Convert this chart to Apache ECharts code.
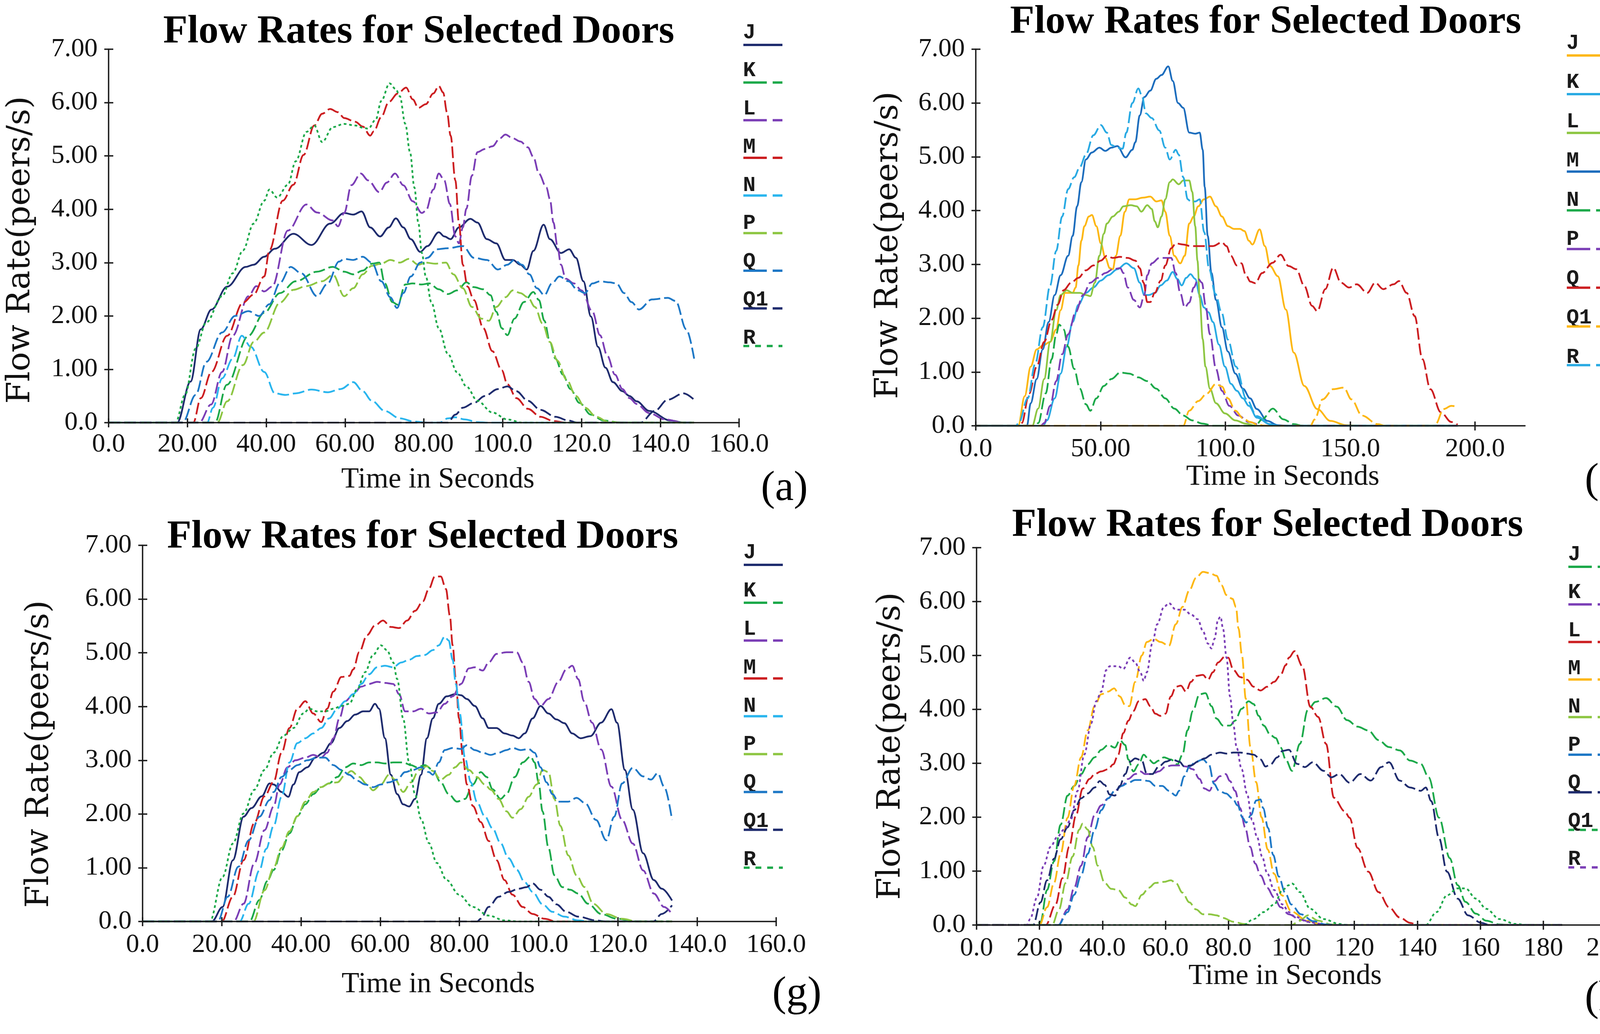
<!DOCTYPE html>
<html>
<head>
<meta charset="utf-8">
<script src="https://cdn.jsdelivr.net/npm/echarts@6/dist/echarts.min.js"></script>
<style>html,body{margin:0;padding:0;background:#fff;overflow:hidden}#c{width:4229px;height:2647px}</style>
</head>
<body>
<div id="c"></div>
<script>
// ---------------- DATA ----------------
const NAMES = ['J','K','L','M','N','P','Q','Q1','R'];
const Y_TICKS = [0,1,2,3,4,5,6,7];
const Y_LABELS = ['0.0','1.00','2.00','3.00','4.00','5.00','6.00','7.00'];
const X_TICKS_AG = [0,20,40,60,80,100,120,140,160];
const X_LABELS_AG = ['0.0','20.00','40.00','60.00','80.00','100.0','120.0','140.0','160.0'];
const X_TICKS_D = [0,50,100,150,200];
const X_LABELS_D = ['0.0','50.00','100.0','150.0','200.0'];
const X_TICKS_H = [0,20,40,60,80,100,120,140,160,180,200];
const X_LABELS_H = ['0.0','20.0','40.0','60.0','80.0','100','120','140','160','180','200'];

// panel (a)
const a_J = [[0,0],[17.4,0],[20.8,0.77],[23.4,1.75],[26.1,2.12],[30.1,2.55],[34.8,2.92],[36.8,2.96],[39.5,3.11],[42.2,3.26],[46.9,3.54],[51.5,3.33],[56.2,3.73],[59.8,3.93],[62.1,3.9],[64.2,3.96],[66.4,3.66],[68.9,3.49],[71.1,3.66],[72.9,3.83],[74.8,3.66],[76.7,3.44],[79.1,3.2],[80.9,3.31],[83.8,3.57],[85.2,3.49],[86.8,3.44],[88.9,3.66],[91.8,3.82],[93.6,3.75],[96,3.44],[98.4,3.36],[100.7,3.05],[102.6,3.05],[104.5,2.96],[106.1,2.87],[107.8,3.22],[110.4,3.71],[112,3.44],[114.8,3.18],[116.9,3.25],[118.6,3.09],[120.5,2.65],[122.4,1.99],[124.2,1.42],[126.1,1.03],[128,0.76],[130.4,0.59],[132.2,0.5],[134,0.4],[137.2,0.22],[142.6,0.04],[146,0],[148.6,0]];
const a_K = [[0,0],[27,0],[30,0.71],[35.5,1.63],[39.5,2.06],[43.5,2.43],[47.5,2.65],[52.9,2.83],[56.9,2.92],[59.8,2.83],[62.1,2.78],[64.5,2.85],[66.8,2.98],[68.7,3.0],[70.1,2.61],[72,2.26],[73.4,2.21],[75.3,2.59],[77.2,2.61],[79.5,2.59],[81.4,2.61],[83.8,2.5],[86.1,2.41],[88.5,2.48],[90.8,2.63],[92.7,2.54],[95.1,2.5],[96.9,2.39],[98.4,2.08],[99.8,1.77],[101.2,1.64],[103,1.95],[105.4,2.26],[107.8,2.45],[109.2,2.3],[110.6,1.91],[112,1.51],[113.4,1.2],[115.3,0.9],[117.2,0.63],[119.5,0.37],[122.4,0.15],[125.6,0.04],[130,0],[148.6,0]];
const a_L = [[0,0],[23,0],[26,0.34],[28.8,0.95],[31.5,1.63],[35.5,2.37],[37.5,2.56],[39.5,2.46],[41.5,2.55],[45.5,3.6],[50.2,4.09],[52.9,3.94],[56.9,3.79],[58.2,3.68],[59.8,3.93],[61.6,4.45],[64,4.67],[65.9,4.54],[68.7,4.32],[70.6,4.5],[72.7,4.67],[74.8,4.45],[77.2,4.15],[79.5,3.93],[80.5,3.97],[82.4,4.37],[83.8,4.67],[85.2,4.54],[86.6,4.1],[88,3.49],[88.9,3.36],[89.9,3.66],[90.8,4.01],[92.2,4.63],[93.6,5.07],[95.5,5.13],[97.4,5.18],[99.3,5.33],[100.7,5.4],[102.6,5.33],[104.5,5.27],[106.4,5.16],[107.8,4.98],[109.2,4.67],[111.1,4.41],[112,4.19],[112.9,3.75],[113.9,3.31],[114.8,2.96],[116,2.7],[118.1,2.61],[120,2.48],[122.8,2.08],[124.7,1.64],[126.6,1.25],[128.5,0.9],[130.4,0.63],[132.2,0.46],[134,0.35],[137.2,0.18],[141.2,0.06],[146,0],[148.6,0]];
const a_M = [[0,0],[21.5,0],[23.4,0.46],[26.1,0.95],[30.1,1.63],[34.1,2.25],[36.8,2.4],[39.5,2.74],[40.8,3.23],[44.2,4.16],[46.9,4.46],[49.5,5.02],[52.2,5.57],[54.2,5.79],[56.2,5.88],[58.2,5.82],[59.8,5.71],[62.6,5.64],[64.5,5.55],[66.4,5.38],[67.3,5.46],[69.2,5.73],[71.1,6.01],[73.4,6.17],[75.5,6.28],[77.2,6.06],[78.6,5.9],[80.5,5.97],[82.4,6.17],[83.8,6.31],[84.9,6.19],[85.9,5.81],[86.8,5.38],[88,4.54],[88.9,3.75],[89.9,2.96],[91.1,2.55],[92.7,2.3],[95.1,1.77],[97.4,1.34],[99.8,0.98],[101.2,0.72],[103.5,0.46],[106.4,0.26],[109.6,0.11],[113,0.03],[116,0],[148.6,0]];
const a_N = [[0,0],[25,0],[26.5,0.28],[28.8,0.83],[31.5,1.2],[33.8,1.63],[36.1,1.42],[39.5,0.95],[42.2,0.55],[44.9,0.52],[47.5,0.55],[51.5,0.62],[55.6,0.57],[58.9,0.63],[62.1,0.76],[64.5,0.59],[66.8,0.41],[70.1,0.22],[73.9,0.08],[77.6,0.02],[80.9,0],[84,0],[86.1,0.08],[88,0.1],[90.4,0.06],[93.6,0.01],[96,0],[148.6,0]];
const a_P = [[0,0],[27.6,0],[30.1,0.4],[34.1,1.08],[36.8,1.51],[39.5,1.69],[43.5,2.25],[46.9,2.49],[50.2,2.56],[54.2,2.65],[57,2.77],[59.8,2.37],[62.1,2.52],[64.5,2.78],[66.8,2.94],[69.2,2.98],[71.5,3.05],[73.9,3.0],[76.2,3.07],[78.6,2.96],[80.5,3.0],[82.8,2.98],[85.6,3.0],[87.5,2.78],[89.9,2.52],[92.2,2.17],[94.6,1.95],[96.5,1.91],[98.4,2.17],[100.7,2.35],[102.6,2.48],[104.5,2.43],[106.4,2.35],[108.2,2.17],[110.1,1.86],[112,1.51],[113.9,1.16],[116.2,0.81],[118.6,0.5],[120.9,0.28],[123.8,0.11],[126.6,0.02],[130,0],[148.6,0]];
const a_Q = [[0,0],[18.8,0],[22.1,0.52],[24.8,1.14],[28.8,1.69],[32.1,2.0],[35.5,2.09],[38.2,2.0],[40.8,2.22],[43.5,2.62],[46.2,2.92],[48.9,2.8],[52.9,2.37],[55.5,2.6],[58.5,3.02],[59.8,3.07],[62.1,3.05],[64.5,3.11],[66.8,3.0],[69.2,2.65],[71.5,2.35],[73.2,2.15],[74.8,2.43],[76.7,2.74],[79.1,3.0],[80.9,3.09],[83.3,3.25],[86.1,3.27],[89.9,3.31],[92.7,3.09],[96,3.05],[98.8,2.87],[101.2,2.96],[103,3.05],[104.9,2.96],[106.8,2.78],[108.7,2.52],[110.6,2.39],[112.5,2.61],[114.4,2.74],[116.7,2.65],[119.1,2.48],[120.9,2.43],[122.8,2.61],[124.7,2.65],[127.1,2.63],[128.9,2.61],[130.8,2.43],[132.7,2.26],[134.6,2.12],[137.9,2.31],[141.9,2.34],[143.9,2.28],[146.6,1.75],[148.6,1.2]];
const a_Q1 = [[0,0],[86.1,0],[88,0.15],[89.9,0.28],[92.7,0.37],[95.5,0.5],[98.8,0.63],[101.2,0.68],[103.5,0.59],[106.4,0.41],[109.6,0.24],[113.4,0.11],[116.7,0.04],[119,0],[135,0],[138.6,0.22],[141.9,0.43],[145.9,0.55],[148.6,0.43]];
const a_R = [[0,0],[17,0],[19.4,0.52],[22.1,1.39],[24.8,1.88],[28.8,2.37],[31.5,2.8],[34.1,3.23],[36.8,3.73],[39.5,4.16],[40.8,4.37],[42.8,4.22],[45.5,4.46],[47.5,4.9],[50.2,5.45],[52.2,5.57],[54.2,5.26],[56.9,5.54],[59.8,5.6],[62.6,5.57],[64.5,5.53],[65.9,5.51],[67.8,5.68],[69.2,6.03],[71.3,6.36],[72.9,6.25],[73.9,6.12],[75.3,5.6],[76.5,5.07],[77.6,4.41],[78.6,3.75],[79.5,3.18],[80.5,2.74],[81.9,2.26],[83.8,1.77],[86.1,1.29],[88.5,0.94],[90.8,0.68],[93.6,0.41],[97.4,0.19],[101.2,0.06],[105,0],[148.6,0]];

// panel (d)
const d_J = [[0,0],[17,0],[19.6,0.55],[22,1.1],[24.4,1.42],[26.8,1.49],[29.8,1.56],[32.2,1.79],[34,2.15],[35.8,2.47],[38.8,2.47],[40,2.57],[41.1,2.98],[42.3,3.44],[43.5,3.71],[45.3,3.89],[46.5,3.92],[48.3,3.71],[50.1,3.39],[51.9,3.12],[53.7,2.93],[54.9,2.91],[56.1,3.16],[57.9,3.53],[59.7,3.98],[61.5,4.21],[63.9,4.21],[66.9,4.24],[69.9,4.26],[72.3,4.17],[74.4,4.19],[75.9,3.98],[77.7,3.53],[79.5,3.16],[81.9,3.02],[83.7,3.16],[85.5,3.76],[87.3,3.89],[89.1,4.08],[91.4,4.21],[93.8,4.26],[96.2,4.08],[98.6,3.89],[101,3.71],[103.4,3.66],[105.8,3.66],[107.6,3.62],[109.4,3.44],[110.8,3.37],[113.7,3.65],[115.8,3.34],[117.9,2.97],[121,2.78],[124.2,2.16],[127.4,1.36],[131.6,0.74],[136.8,0.31],[142.1,0.09],[148.4,0.01],[155,0],[193,0]];
const d_K = [[0,0],[27,0],[28.5,0.1],[31.6,0.51],[34,0.97],[36.4,1.47],[38.8,1.93],[41.1,2.25],[44.1,2.47],[47.1,2.57],[50.1,2.7],[53.1,2.8],[56.7,2.91],[60.3,3.02],[63.3,2.93],[65.7,2.66],[67.5,2.43],[69.3,2.43],[71.7,2.47],[74.1,2.61],[76.5,2.7],[78.9,2.86],[80.7,2.73],[82.5,2.61],[84.3,2.75],[86,2.82],[87.9,2.73],[89.7,2.43],[91.4,2.2],[93.2,2.11],[95,1.93],[97.4,1.51],[99.8,1.1],[102.2,0.78],[104.6,0.65],[107,0.51],[109.4,0.37],[112.6,0.15],[117.9,0.03],[122,0],[193,0]];
const d_L = [[0,0],[22.6,0],[25,0.32],[27.4,0.87],[29.8,1.56],[32.2,2.15],[34,2.43],[36.4,2.52],[38.8,2.47],[41.7,2.47],[44.1,2.43],[45.9,2.41],[47.7,2.66],[49.5,3.16],[51.3,3.57],[52.5,3.76],[54.9,3.89],[57.3,3.98],[59.1,4.08],[62.1,4.1],[64.5,4.08],[66.3,3.98],[68.7,4.1],[70.5,4.03],[71.7,3.8],[72.9,3.69],[74.4,3.89],[75.9,4.21],[77.7,4.53],[78.9,4.58],[81.3,4.49],[83.1,4.56],[85.5,4.56],[86.7,4.35],[87.9,3.71],[88.8,3.07],[89.7,2.38],[90.9,1.61],[92,1.1],[93.8,0.69],[96.2,0.42],[99.8,0.23],[104,0.1],[108.2,0.04],[112,0],[193,0]];
const d_M = [[0,0],[20.5,0],[22,0.42],[24.4,0.87],[26.8,1.42],[29.2,1.93],[31.6,2.43],[34,2.8],[37,3.16],[38.8,3.53],[40.6,4.08],[42.3,4.53],[44.1,4.95],[46.5,5.08],[49.5,5.17],[51.9,5.11],[54.3,5.17],[56.7,5.2],[60,4.99],[62.7,5.13],[63.9,5.27],[65.7,5.77],[67.5,6.11],[69.9,6.23],[72.3,6.45],[74.4,6.52],[77.1,6.68],[78.9,6.41],[81,6.0],[83.1,5.91],[85.5,5.45],[87.9,5.43],[89.7,5.45],[90.9,5.13],[91.7,4.44],[92.9,3.53],[94.4,2.84],[96.2,2.34],[98.6,1.83],[101,1.38],[104,0.97],[107,0.69],[109.9,0.51],[112.6,0.31],[116.8,0.09],[121,0.01],[125,0],[193,0]];
const d_N = [[0,0],[24,0],[25,0.05],[28,0.6],[30.4,1.24],[32.2,1.7],[33.4,1.88],[35.2,1.79],[37,1.47],[39.4,1.06],[41.7,0.69],[44.1,0.4],[45.9,0.28],[48.3,0.51],[51.3,0.74],[54.3,0.87],[57.9,0.99],[61.5,0.97],[65.1,0.9],[68.7,0.83],[72.3,0.69],[75.9,0.51],[79.5,0.32],[83.1,0.19],[86.7,0.1],[90.9,0.04],[95,0],[112,0],[114.7,0.12],[119,0.32],[123.2,0.12],[127.4,0.03],[131,0],[193,0]];
const d_P = [[0,0],[26,0],[27.4,0.05],[29.8,0.37],[32.2,0.83],[34.6,1.33],[37,1.7],[40,2.11],[43,2.43],[45.9,2.66],[48.9,2.75],[51.9,2.84],[54.9,2.91],[57.9,2.93],[59.1,2.84],[60.9,2.57],[63.3,2.34],[65.7,2.2],[67.5,2.43],[68.7,2.8],[70.5,3.02],[73.5,3.12],[76.5,3.12],[78.3,3.12],[80.1,2.84],[81.9,2.47],[83.7,2.2],[85.5,2.29],[87.3,2.57],[89.1,2.73],[90.6,2.66],[92,2.25],[93.8,1.7],[96.2,1.06],[98.6,0.65],[101.6,0.37],[105.2,0.19],[109.4,0.07],[115,0],[193,0]];
const d_Q = [[0,0],[17.5,0],[18.4,0.05],[21.4,0.6],[24.4,1.1],[27.4,1.56],[30.4,1.97],[32.8,2.25],[35.2,2.52],[38.2,2.66],[41.1,2.75],[44.1,2.89],[47.1,2.98],[50.1,3.07],[52.5,3.16],[54.9,3.12],[57.9,3.14],[60.9,3.12],[63.9,3.07],[65.7,2.93],[67.2,2.66],[68.7,2.3],[69.9,2.3],[71.7,2.47],[74.1,2.7],[75.9,2.98],[78.3,3.3],[80.1,3.39],[83.1,3.37],[86,3.34],[89.1,3.34],[92,3.34],[95,3.34],[98.6,3.41],[100.4,3.34],[102.2,3.16],[104.6,2.98],[106.4,3.02],[108.2,2.8],[110,2.68],[112,2.65],[114.7,2.84],[118.9,3.03],[122.1,3.18],[125.3,2.97],[128.4,2.91],[131.6,2.6],[134.7,2.23],[136.8,2.13],[140,2.54],[143.2,2.94],[146.3,2.66],[149.5,2.57],[152.6,2.63],[156.8,2.47],[160,2.66],[163.2,2.54],[167.4,2.63],[169.5,2.69],[172.6,2.47],[175.8,2.04],[178.9,1.24],[182.1,0.68],[186.3,0.25],[190.5,0.07],[193,0.02]];
const d_Q1 = [[0,0],[83.1,0],[85.5,0.28],[89.1,0.46],[92.6,0.6],[96.2,0.78],[98.6,0.73],[101,0.51],[104,0.28],[107,0.14],[109.9,0.07],[113,0.02],[116,0],[134,0],[135.8,0.12],[138.9,0.49],[143.2,0.68],[147.4,0.71],[150.5,0.49],[154.7,0.19],[161,0.03],[164,0],[183,0],[184.2,0.03],[187.4,0.31],[190.5,0.37],[192.6,0.36]];
const d_R = [[0,0],[16,0],[17.2,0.05],[20.8,0.51],[23.8,1.15],[26.8,1.83],[29.8,2.61],[32.2,3.25],[34.6,3.89],[37,4.4],[39.4,4.62],[41.7,4.81],[44.1,5.04],[47.1,5.4],[50.1,5.59],[52.5,5.45],[54.3,5.22],[56.7,5.17],[58.8,5.15],[60.3,5.45],[62.7,6.0],[65.1,6.27],[66.6,6.13],[68.1,5.81],[70.5,5.72],[73.5,5.49],[75.9,5.17],[77.7,4.95],[80.1,5.13],[81.3,5.04],[83.1,4.62],[84.9,4.21],[86.1,4.17],[87.9,4.17],[89.7,4.21],[91.5,3.6],[93.5,2.9],[96,2.45],[98.5,2.1],[101,1.6],[104.2,1.1],[108.4,0.5],[112.6,0.18],[118,0.02],[122,0],[193,0]];

// panel (g)
const g_J = [[0,0],[17.5,0],[20.2,0.27],[22.8,1.14],[25.5,1.95],[27.5,2.11],[30.1,2.33],[32.1,2.57],[33.1,2.55],[35.1,2.41],[36.8,2.32],[38.1,2.55],[39.6,2.78],[41.6,2.87],[43.6,3.05],[45.6,3.14],[47.6,3.32],[49.7,3.6],[51.7,3.73],[53.7,3.85],[55.7,3.91],[57.2,3.91],[58.7,4.05],[59.7,3.96],[61.2,3.41],[62.7,2.73],[64.3,2.37],[65.8,2.18],[67.3,2.14],[68.8,2.28],[70.3,2.73],[71.8,3.41],[73.3,3.78],[74.8,4.05],[76.8,4.19],[78.9,4.23],[80.4,4.21],[81.9,4.14],[83.9,4.01],[85.9,3.78],[87.4,3.6],[89.4,3.6],[91.4,3.5],[93.4,3.46],[95,3.41],[96.5,3.5],[98.5,3.78],[100.5,4.01],[102.5,3.87],[104.5,3.76],[106.5,3.69],[108.5,3.5],[110.6,3.41],[113.1,3.45],[115.8,3.7],[118.4,3.95],[119.8,3.7],[121.8,2.82],[123.8,2.08],[126.4,1.27],[129.1,0.77],[131.1,0.61],[133.7,0.39]];
const g_K = [[0,0],[27,0],[29.5,0.4],[31.5,0.75],[33.1,0.96],[35.1,1.32],[37.1,1.64],[39.1,1.96],[41.1,2.18],[43.1,2.37],[45.1,2.5],[47.1,2.57],[49.2,2.69],[51.2,2.87],[53.2,2.94],[55.2,2.91],[57.2,2.96],[59.2,2.96],[61.2,2.94],[63.3,2.96],[65.8,2.96],[67.8,2.91],[69.3,2.87],[71.3,2.91],[73.3,2.82],[75.3,2.59],[77.3,2.37],[79.4,2.23],[81.4,2.28],[83.4,2.55],[85.4,2.78],[86.9,2.69],[88.4,2.46],[90.4,2.28],[91.9,2.37],[94,2.69],[96,2.96],[98,3.07],[99,2.96],[100,2.59],[101,2.05],[102.5,1.37],[104,0.86],[106,0.64],[108,0.59],[110,0.52],[112.5,0.33],[115.8,0.14],[119.8,0.05],[125,0],[133.7,0]];
const g_L = [[0,0],[23,0],[25.5,0.33],[28.2,1.08],[30.8,1.7],[33.1,2.14],[34.6,2.55],[36.6,2.87],[38.6,3.0],[41.1,3.05],[43.1,3.1],[45.1,3.05],[46.6,3.14],[48.2,3.41],[49.7,3.78],[51.2,4.1],[53.2,4.23],[55.2,4.37],[57.2,4.42],[59.2,4.46],[61.2,4.44],[63.3,4.42],[64.8,4.23],[66.3,3.91],[68.3,3.91],[70.3,3.96],[72.3,3.87],[74.3,3.89],[76.3,4.05],[78.3,4.19],[80.4,4.42],[82.4,4.71],[83.9,4.73],[85.9,4.67],[87.4,4.82],[89.4,4.98],[91.9,5.01],[94.5,5.01],[96,4.82],[97.5,4.46],[99,4.14],[100.5,4.01],[102.5,4.14],[105,4.46],[107,4.69],[108.5,4.76],[110,4.51],[111.5,4.1],[113.5,3.7],[115.8,3.2],[118.4,2.51],[121.1,1.89],[123.8,1.45],[126.4,0.95],[129.1,0.52],[131.7,0.27],[133.7,0.14]];
const g_M = [[0,0],[20,0],[22.8,0.46],[25.5,1.14],[28.2,1.83],[30.8,2.33],[33.1,2.6],[35.1,3.14],[37.1,3.6],[39.1,3.96],[41.1,4.1],[43.1,3.87],[45.1,3.71],[46.6,3.96],[48.2,4.28],[50.2,4.55],[52.2,4.57],[53.2,4.69],[54.7,5.01],[56.7,5.33],[58.7,5.51],[60.7,5.6],[62.7,5.48],[64.8,5.46],[66.8,5.6],[68.8,5.78],[70.8,5.96],[72.3,6.19],[73.8,6.42],[75.3,6.42],[76.6,6.19],[77.6,5.69],[78.3,5.14],[79.1,4.51],[79.9,3.78],[80.9,3.05],[81.9,2.55],[83.4,2.15],[85.4,1.85],[87.4,1.5],[89.4,1.14],[91.4,0.77],[93.4,0.5],[96,0.27],[98.5,0.14],[101.5,0.05],[104.5,0],[133.7,0]];
const g_N = [[0,0],[24.5,0],[26.8,0.33],[29.5,0.95],[31.2,1.35],[33.1,1.78],[35.1,2.32],[37.1,2.96],[39.1,3.32],[41.1,3.41],[43.1,3.5],[45.1,3.6],[47.1,3.78],[49.2,3.96],[51.2,4.1],[53.2,4.23],[55.2,4.42],[57.2,4.6],[59.2,4.73],[61.2,4.76],[63.3,4.73],[65.3,4.82],[67.3,4.87],[69.3,4.94],[71.3,4.96],[73.3,5.05],[74.8,5.14],[76.3,5.3],[77.3,5.23],[78.3,4.87],[79.1,4.42],[80.1,3.87],[81.4,3.05],[82.9,2.59],[84.4,2.23],[86.4,1.96],[88.4,1.73],[90.4,1.46],[92.4,1.18],[94.5,0.96],[96.5,0.73],[98.5,0.55],[101,0.32],[103.5,0.18],[106.5,0.09],[110,0.02],[113,0],[133.7,0]];
const g_P = [[0,0],[28,0],[30.8,0.58],[33.1,1.0],[35.1,1.37],[37.1,1.68],[39.1,1.96],[41.1,2.23],[43.1,2.41],[45.1,2.5],[47.1,2.57],[49.2,2.59],[51.2,2.73],[52.7,2.8],[54.7,2.69],[56.7,2.55],[58.2,2.44],[60.2,2.55],[62.2,2.73],[63.8,2.64],[65.8,2.41],[67.8,2.59],[69.8,2.82],[71.8,2.89],[73.3,2.8],[75.3,2.64],[77.3,2.73],[78.9,2.87],[80.4,2.96],[82.4,2.82],[84.4,2.69],[86.4,2.55],[88,2.45],[89.9,2.28],[91.9,2.05],[93.4,1.93],[95.5,2.09],[97.5,2.32],[99.5,2.55],[101,2.82],[102.5,2.78],[104,2.28],[105.5,1.78],[107.5,1.23],[109.6,0.86],[111.6,0.64],[113.8,0.33],[117.1,0.14],[121.1,0.05],[125,0],[133.7,0]];
const g_Q = [[0,0],[19,0],[21.5,0.46],[24.2,1.02],[26.8,1.51],[29.5,1.95],[32.1,2.26],[33.1,2.41],[35.1,2.69],[37.1,2.82],[39.1,2.91],[41.6,3.0],[44.1,3.05],[46.1,3.05],[48.2,2.91],[50.2,2.82],[52.2,2.73],[54.2,2.62],[56.2,2.55],[58.2,2.5],[60.2,2.55],[62.2,2.59],[64.3,2.64],[66.3,2.78],[68.3,2.82],[70.3,2.87],[72.3,2.78],[73.3,2.73],[74.8,2.96],[76.3,3.19],[78.3,3.23],[80.4,3.21],[81.9,3.28],[83.9,3.19],[85.9,3.14],[87.9,3.1],[89.9,3.14],[91.9,3.19],[93.4,3.23],[95.5,3.19],[97.5,3.21],[99,3.14],[100.5,2.87],[102,2.59],[103.5,2.37],[105,2.23],[107.5,2.23],[109.6,2.3],[111.8,2.2],[114.5,1.89],[117.1,1.51],[119.1,1.95],[121.1,2.57],[123.8,2.86],[126.4,2.7],[128.4,2.64],[130.1,2.76],[131.7,2.51],[133.7,1.89]];
const g_Q1 = [[0,0],[84.5,0],[85.4,0.05],[87.4,0.27],[89.9,0.46],[92.4,0.55],[95,0.61],[97,0.64],[98.5,0.71],[100.5,0.59],[102.5,0.46],[104.5,0.32],[107,0.18],[110,0.09],[114.5,0.02],[117,0],[129,0],[131.1,0.14],[133.7,0.3]];
const g_R = [[0,0],[17,0],[20.2,0.83],[22.8,1.45],[25.5,2.01],[28.2,2.45],[30.8,2.82],[33.1,3.14],[35.6,3.46],[38.1,3.6],[40.6,3.87],[42.1,3.96],[44.1,3.91],[46.1,3.91],[48.2,3.96],[50.2,4.01],[52.2,4.05],[54.2,4.32],[56.2,4.64],[58.2,4.96],[60.2,5.14],[61.7,5.05],[63.3,4.82],[64.3,4.51],[65.8,3.78],[67.3,2.96],[68.8,2.37],[70.3,1.91],[72.3,1.46],[74.3,1.09],[76.8,0.77],[79.9,0.5],[83.4,0.27],[87.4,0.11],[91.4,0.02],[95,0],[133.7,0]];

// panel (h)
const h_J = [[0,0],[19,0],[20.3,0.05],[22.4,0.65],[24.6,1.18],[26.7,1.86],[28.9,2.4],[31,2.58],[33.2,2.8],[35.3,2.98],[37.5,3.11],[39.6,3.25],[41.8,3.34],[43.9,3.29],[45.5,3.43],[47.2,3.34],[48.2,3.07],[49.8,2.85],[51.5,2.98],[53.1,3.16],[54.7,3.07],[56.3,3.0],[57.9,3.05],[59.5,3.11],[61.7,3.07],[63.8,2.98],[65.4,3.16],[67,3.61],[68.7,3.97],[70.8,4.28],[72.7,4.3],[74.6,4.06],[76.2,3.83],[78.3,3.7],[80.5,3.7],[82.1,3.79],[84.2,4.01],[86.4,4.15],[88,4.1],[89.6,3.88],[91.2,3.7],[93.4,3.52],[95,3.47],[96.6,3.29],[98.2,3.07],[100.2,2.86],[102.7,3.36],[105.2,3.99],[107.7,4.14],[111,4.21],[114.4,4.05],[117.7,3.8],[121,3.68],[124.4,3.61],[127.7,3.43],[131,3.3],[134.4,3.24],[137.7,3.05],[141.1,2.99],[143.6,2.74],[146.9,1.99],[150.3,1.24],[152.8,0.74],[155.3,0.43],[158.6,0.21],[161.9,0.08],[166.1,0.01],[170,0],[186,0]];
const h_K = [[0,0],[26,0],[28.9,0.29],[31,0.69],[33.2,1.1],[35.3,1.63],[37.5,2.04],[39.6,2.22],[41.8,2.35],[43.9,2.49],[46.1,2.58],[48.2,2.71],[50.4,2.8],[52,2.85],[53.6,2.8],[55.8,2.8],[57.9,2.85],[60.1,2.94],[62.2,2.96],[64.4,2.96],[66.5,2.94],[68.7,2.89],[70.8,2.71],[72.4,2.53],[74,2.49],[75.6,2.67],[77.3,2.76],[79.1,2.8],[80.5,2.67],[82.1,2.49],[83.7,2.17],[85.3,1.81],[86.9,1.45],[88.5,1.14],[90.2,0.92],[92.3,0.69],[94.5,0.51],[96.6,0.33],[99.2,0.2],[102.7,0.1],[107.7,0.03],[112,0],[186,0]];
const h_L = [[0,0],[22,0],[25.1,0.38],[27.3,0.87],[29.4,1.45],[31.6,2.04],[33.7,2.53],[35.9,2.71],[37.5,2.8],[39.6,2.85],[41.8,2.89],[43.4,2.98],[45,3.16],[46.6,3.56],[48.2,3.79],[49.8,3.97],[51.5,4.15],[53.6,4.19],[55.2,4.06],[56.8,3.92],[58.4,3.88],[60,3.92],[61.7,4.24],[63.3,4.42],[64.9,4.44],[66.5,4.33],[68.1,4.51],[69.7,4.62],[71.9,4.64],[73.5,4.55],[75.1,4.69],[76.7,4.87],[78.9,4.98],[79.9,4.96],[81.6,4.73],[83.7,4.6],[85.9,4.55],[88,4.42],[90.2,4.35],[92.3,4.42],[94.5,4.51],[96.6,4.64],[98.2,4.82],[99.2,4.96],[101,5.08],[103.5,4.8],[106,4.05],[108.5,3.86],[111,3.36],[113.5,2.36],[116.9,2.11],[118.5,1.99],[121,1.43],[124.4,0.99],[127.7,0.61],[131,0.33],[134.4,0.14],[137.7,0.04],[140,0],[186,0]];
const h_M = [[0,0],[20,0],[22.4,0.33],[24.6,0.78],[26.7,1.32],[28.9,1.99],[31,2.58],[33.2,3.11],[35.3,3.61],[37.5,4.06],[39.6,4.28],[41.8,4.33],[43.7,4.39],[45.5,4.24],[47.2,4.08],[48.5,4.06],[50.4,4.51],[52.5,5.0],[54.1,5.25],[56.3,5.31],[58.4,5.25],[61.1,5.18],[63.3,5.58],[65.4,5.9],[67.6,6.21],[69.7,6.44],[71.9,6.55],[74,6.53],[76.2,6.48],[77.8,6.3],[79.4,6.12],[81.3,6.05],[82.4,5.9],[83.2,5.5],[84.3,5.0],[85.5,4.2],[87,3.3],[88.8,2.65],[90.5,2.0],[92.5,1.4],[94.5,0.95],[97,0.55],[100,0.25],[105,0.08],[110,0.01],[113,0],[186,0]];
const h_N = [[0,0],[24,0],[26.2,0.29],[28.3,0.78],[30.5,1.27],[32.6,1.77],[33.7,1.88],[35.3,1.77],[36.9,1.45],[38.5,1.1],[40.7,0.78],[42.8,0.67],[45,0.65],[47.2,0.51],[49.3,0.38],[50.4,0.35],[52.5,0.56],[54.7,0.69],[56.8,0.78],[59.5,0.8],[61.7,0.83],[63.3,0.78],[65.4,0.6],[67.6,0.42],[69.7,0.29],[71.9,0.2],[74,0.2],[76.2,0.18],[78.3,0.13],[81.6,0.06],[84.8,0.02],[87,0],[100,0],[102.7,0.08],[105.2,0.18],[108.5,0.08],[112.7,0.01],[115,0],[186,0]];
const h_P = [[0,0],[26,0],[28.9,0.24],[31,0.56],[33.2,0.92],[35.3,1.32],[37.5,1.77],[39.6,2.13],[41.8,2.35],[43.9,2.49],[46.1,2.58],[48.2,2.64],[50.4,2.69],[52.5,2.69],[54.7,2.67],[56.8,2.58],[59,2.58],[61.1,2.49],[63.3,2.4],[64.3,2.49],[66,2.76],[67.6,2.94],[69.7,3.03],[71.9,3.07],[73.8,2.98],[75.4,2.62],[77,2.49],[79.2,2.44],[81.3,2.35],[82.9,2.22],[84.5,1.99],[85.6,1.9],[87.2,2.04],[88.8,2.31],[90.2,2.33],[91,2.17],[92.6,1.8],[94.2,1.3],[96,0.9],[98,0.6],[100,0.38],[103,0.2],[107,0.07],[111,0.01],[114,0],[186,0]];
const h_Q = [[0,0],[18,0],[20.3,0.42],[22.4,0.83],[24.6,1.23],[26.7,1.59],[28.9,1.81],[31,2.13],[33.2,2.35],[35.3,2.44],[37.5,2.55],[39.1,2.67],[40.7,2.6],[42.3,2.42],[43.9,2.4],[45.5,2.58],[47.2,2.8],[48.8,3.03],[50.4,3.09],[52.5,3.05],[54.1,2.8],[55.8,2.8],[57.9,2.94],[60.1,3.03],[62.2,3.07],[64.4,3.03],[66,2.94],[68.1,2.96],[70.3,3.03],[72.4,3.09],[74.6,3.16],[77.3,3.2],[79.4,3.18],[81.6,3.2],[83.7,3.2],[85.9,3.18],[88,3.16],[90.2,3.07],[91.8,2.94],[93.4,2.98],[95.5,3.11],[97.2,3.23],[99.2,3.25],[101.8,2.99],[104.3,2.93],[106.8,3.02],[110.2,2.86],[112.7,2.74],[115.2,2.8],[118.5,2.64],[121.9,2.8],[125.2,2.68],[128.5,2.93],[131,3.02],[134.4,2.68],[137.7,2.55],[141.1,2.49],[142.7,2.55],[144.4,2.3],[146.9,1.61],[149.4,0.99],[152.8,0.49],[156.1,0.18],[160.3,0.04],[163,0],[186,0]];
const h_Q1 = [[0,0],[84.8,0],[88,0.11],[91.2,0.24],[94.5,0.38],[97.2,0.65],[99.2,0.74],[100.2,0.77],[102.7,0.61],[106,0.3],[110.2,0.11],[115.2,0.02],[118,0],[142.7,0],[146.1,0.24],[149.4,0.55],[152.8,0.68],[155.3,0.68],[158.6,0.49],[161.9,0.3],[166.1,0.11],[171.1,0.02],[175,0],[186,0]];
const h_R = [[0,0],[16,0],[17,0.11],[19.2,0.51],[21.3,1.1],[23.5,1.45],[25.6,1.63],[27.8,1.77],[29.9,1.95],[32.1,2.49],[34.2,3.16],[36.4,3.74],[38,4.15],[39.6,4.33],[41.2,4.73],[42.3,4.8],[45,4.8],[46.6,4.75],[48.8,4.96],[50.4,4.87],[52,4.69],[53.1,4.53],[54.1,4.69],[55.8,5.22],[57.4,5.58],[59.5,5.9],[61.1,5.97],[63.3,5.85],[66,5.85],[68.1,5.76],[70.3,5.67],[71.9,5.45],[73.5,5.22],[74.6,5.13],[75.6,5.31],[76.7,5.67],[77.5,5.72],[78.3,5.49],[79.4,4.96],[80.5,4.24],[81.6,3.7],[82.6,3.29],[84.2,2.89],[85.9,2.44],[87.5,1.95],[89.1,1.63],[90.7,1.27],[92.3,0.96],[94.5,0.65],[97.2,0.38],[99.2,0.24],[101,0.16],[105.2,0.06],[110,0],[186,0]];

const DATA = {
  a: {J:a_J, K:a_K, L:a_L, M:a_M, N:a_N, P:a_P, Q:a_Q, Q1:a_Q1, R:a_R},
  d: {J:d_J, K:d_K, L:d_L, M:d_M, N:d_N, P:d_P, Q:d_Q, Q1:d_Q1, R:d_R},
  g: {J:g_J, K:g_K, L:g_L, M:g_M, N:g_N, P:g_P, Q:g_Q, Q1:g_Q1, R:g_R},
  h: {J:h_J, K:h_K, L:h_L, M:h_M, N:h_N, P:h_P, Q:h_Q, Q1:h_Q1, R:h_R}
};

// ---------------- STYLES / LAYOUT ----------------
const NAVY='#1f2c6e', GREEN='#1ca94a', PURPLE='#7b3eb6', RED='#cc1e21', CYAN='#29b5ee',
      LGREEN='#8dc642', BLUE='#1e78c6', ORANGE='#fdb712', LBLUE='#29aae3', MBLUE='#1d6dbd';
const PLOT_DASH = {solid:'solid', dash:[30,10], dot:[7,7]};
const LEG_DASH = {solid:'solid', dash:[60,15], dot:[15,15]};
const STYLES_AG = {J:[NAVY,'solid'],K:[GREEN,'dash'],L:[PURPLE,'dash'],M:[RED,'dash'],N:[CYAN,'dash'],P:[LGREEN,'dash'],Q:[BLUE,'dash'],Q1:[NAVY,'dash'],R:[GREEN,'dot']};
const STYLES_D = {J:[ORANGE,'solid'],K:[LBLUE,'solid'],L:[LGREEN,'solid'],M:[MBLUE,'solid'],N:[GREEN,'dash'],P:[PURPLE,'dash'],Q:[RED,'dash'],Q1:[ORANGE,'dash'],R:[LBLUE,'dash']};
const STYLES_H = {J:[GREEN,'dash'],K:[PURPLE,'dash'],L:[RED,'dash'],M:[ORANGE,'dash'],N:[LGREEN,'dash'],P:[BLUE,'dash'],Q:[NAVY,'dash'],Q1:[GREEN,'dot'],R:[PURPLE,'dot']};

const PANELS = [
  {key:'a', grid:{left:278,top:126,width:1614,height:956}, xMax:160, xTicks:X_TICKS_AG, xLabels:X_LABELS_AG, styles:STYLES_AG,
   titleX:1072, titleTop:32, yNameGap:183, yNamePad:72, xNameGap:110, xNamePad:[0,0,0,72], xLabelMargin:22,
   legendLeft:1900, legendY:115, legendStep:97.75, legendW:100, tag:'(a)', tagX:2008, tagY:1252},
  {key:'d', grid:{left:2498,top:126,width:1406,height:964}, xMax:220, xTicks:X_TICKS_D, xLabels:X_LABELS_D, styles:STYLES_D,
   titleX:3240, titleTop:7, yNameGap:181, yNamePad:40, xNameGap:86, xNamePad:[0,0,0,166], xLabelMargin:26,
   legendLeft:4008, legendY:142, legendStep:100.5, legendW:94, tag:'(d)', tagX:4120, tagY:1232},
  {key:'g', grid:{left:365,top:1396,width:1622,height:963}, xMax:160, xTicks:X_TICKS_AG, xLabels:X_LABELS_AG, styles:STYLES_AG,
   titleX:1082, titleTop:1325, yNameGap:222, yNamePad:106, xNameGap:125, xNamePad:[0,108,0,0], xLabelMargin:26,
   legendLeft:1901, legendY:1446, legendStep:98.3, legendW:100, tag:'(g)', tagX:2040, tagY:2546},
  {key:'h', grid:{left:2500,top:1402,width:1612,height:966}, xMax:200, xTicks:X_TICKS_H, xLabels:X_LABELS_H, styles:STYLES_H,
   titleX:3245, titleTop:1295, yNameGap:177, yNamePad:50, xNameGap:95, xNamePad:[0,32,0,0], xLabelMargin:26,
   legendLeft:4012, legendY:1451, legendStep:97.6, legendW:96, tag:'(h)', tagX:4120, tagY:2558}
];

const AXIS_COLOR = '#1a1a1a';
const SERIF = 'Liberation Serif';
const option = {animation:false, backgroundColor:'#ffffff', title:[], grid:[], xAxis:[], yAxis:[], legend:[], series:[], graphic:{elements:[]}};

PANELS.forEach((p, i) => {
  option.title.push({text:'Flow Rates for Selected Doors', left:p.titleX, top:p.titleTop, textAlign:'center', textVerticalAlign:'top', padding:0,
    textStyle:{fontFamily:SERIF, fontWeight:'bold', fontSize:102, color:'#000'}});
  option.title.push({text:p.tag, left:p.tagX, top:p.tagY, textAlign:'center', textVerticalAlign:'middle', padding:0,
    textStyle:{fontFamily:SERIF, fontWeight:'normal', fontSize:108, color:'#000'}});
  option.grid.push(Object.assign({containLabel:false, outerBoundsMode:'none'}, p.grid));

  const xInterval = p.xTicks[1] - p.xTicks[0];
  const xFmt = v => { const k = p.xTicks.indexOf(v); return k >= 0 ? p.xLabels[k] : ''; };
  const yFmt = v => { const k = Y_TICKS.indexOf(v); return k >= 0 ? Y_LABELS[k] : ''; };
  // main x axis (outside ticks + labels), drawn above the series like the reference
  option.xAxis.push({type:'value', gridIndex:i, min:0, max:p.xMax, interval:xInterval, z:10,
    name:'Time in Seconds', nameLocation:'middle', nameGap:p.xNameGap,
    nameTextStyle:{fontFamily:SERIF, fontSize:74, color:'#111', padding:p.xNamePad},
    axisLine:{show:true, onZero:false, lineStyle:{color:AXIS_COLOR, width:3.5}},
    axisTick:{show:true, inside:false, length:12, lineStyle:{color:AXIS_COLOR, width:3.5}, customValues:p.xTicks},
    axisLabel:{show:true, margin:p.xLabelMargin, fontFamily:SERIF, fontSize:68, color:'#111', formatter:xFmt, customValues:p.xTicks},
    splitLine:{show:false}});
  // companion x axis (inside half of crossing ticks)
  option.xAxis.push({type:'value', gridIndex:i, min:0, max:p.xMax, interval:xInterval, position:'bottom', z:10,
    axisLine:{show:false}, axisTick:{show:true, inside:true, length:11, lineStyle:{color:AXIS_COLOR, width:3.5}, customValues:p.xTicks},
    axisLabel:{show:false}, splitLine:{show:false}});
  option.yAxis.push({type:'value', gridIndex:i, min:0, max:7, interval:1, z:10,
    name:'Flow Rate(peers/s)', nameLocation:'middle', nameGap:p.yNameGap, nameRotate:90,
    nameTextStyle:{fontFamily:'DejaVu Serif', fontSize:82, color:'#111', padding:[0,p.yNamePad,0,0]},
    axisLine:{show:true, onZero:false, lineStyle:{color:AXIS_COLOR, width:3.5}},
    axisTick:{show:true, inside:false, length:11, lineStyle:{color:AXIS_COLOR, width:3.5}},
    axisLabel:{show:true, margin:28, fontFamily:SERIF, fontSize:68, color:'#111', formatter:yFmt},
    splitLine:{show:false}});
  option.yAxis.push({type:'value', gridIndex:i, min:0, max:7, interval:1, position:'left', z:10,
    axisLine:{show:false}, axisTick:{show:true, inside:true, length:12, lineStyle:{color:AXIS_COLOR, width:3.5}},
    axisLabel:{show:false}, splitLine:{show:false}});

  NAMES.forEach((n, j) => {
    const st = p.styles[n];
    option.series.push({type:'line', name:p.key + ':' + n, xAxisIndex:2*i, yAxisIndex:2*i,
      data:DATA[p.key][n], symbol:'none', showSymbol:false, smooth:0.35, smoothMonotone:'x', clip:true,
      lineStyle:{color:st[0], width:4.5, type:PLOT_DASH[st[1]]}, itemStyle:{color:st[0]},
      emphasis:{disabled:true}, silent:true, z:2});
    option.graphic.elements.push({type:'text', x:p.legendLeft + 2, y:p.legendY + j*p.legendStep - 4, silent:true,
      style:{text:n, fontFamily:'Liberation Mono', fontWeight:'bold', fontSize:54, fill:'#1a1a1a', align:'left', verticalAlign:'bottom'}});
  });

  option.legend.push({orient:'vertical', left:p.legendLeft, top:p.legendY - 7, padding:0,
    itemWidth:p.legendW, itemHeight:14, itemGap:p.legendStep - 14, selectedMode:false,
    formatter:() => '', textStyle:{fontSize:1, color:'rgba(0,0,0,0)'},
    itemStyle:{opacity:0}, lineStyle:{width:6},
    data:NAMES.map(n => ({name:p.key + ':' + n, lineStyle:{width:6, type:LEG_DASH[p.styles[n][1]]}}))});
});

const chart = echarts.init(document.getElementById('c'), null, {renderer:'canvas', width:4229, height:2647});
chart.setOption(option);
</script>
</body>
</html>
